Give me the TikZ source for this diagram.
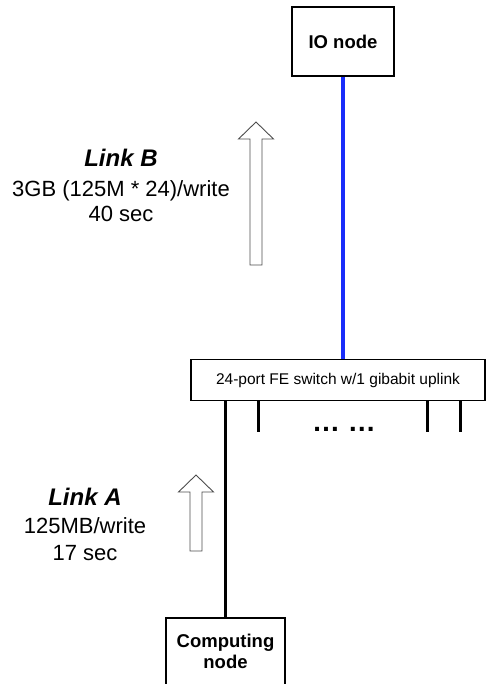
\documentclass[tikz,border=0pt]{standalone}
\usepackage{fontspec}
\setmainfont{Liberation Sans}
\usepackage{xcolor}
\usetikzlibrary{positioning}

\definecolor{linkblue}{RGB}{25,45,250}

\tikzset{
  box/.style={draw, line width=1.6pt, inner sep=0pt, align=center},
  uplink/.style={line width=4.5pt, color=linkblue},
  port/.style={line width=3pt},
  hollow/.style={draw=black!70, line width=0.9pt, line join=miter},
  linkname/.style={anchor=base, font=\fontsize{24}{28}\selectfont\bfseries\itshape},
  linkinfo/.style={anchor=base, font=\fontsize{22}{26}\selectfont},
}

\begin{document}
\begin{tikzpicture}[x=1pt, y=-1pt]
\useasboundingbox (0,0) rectangle (486,684);

% nodes
\node[box, minimum width=102pt, minimum height=69pt, font=\fontsize{18.5}{22}\selectfont\bfseries] (io) at (343,41.5) {IO node};
\node[box, line width=1.3pt, minimum width=294pt, minimum height=41pt, font=\fontsize{15.5}{18}\selectfont] (sw) at (338,380) {24-port FE switch w/1 gibabit uplink};
\node[box, minimum width=119pt, minimum height=67pt, font=\fontsize{18.5}{21}\selectfont\bfseries] (comp) at (225.5,651.5) {Computing\\node};

% links
\draw[uplink] (io.south) -- (io.south |- sw.north);
\draw[port] (comp.north) -- (comp.north |- sw.south);
\foreach \x in {258,427,460}
  \draw[port] (sw.south -| \x,0) -- ++(0,31);
\node[anchor=base, font=\fontsize{28}{30}\selectfont\bfseries] (more) at (344,431) {…\ …};

% direction arrows
\foreach \cx/\tip/\bot in {256/122/265, 196/475/551}
  \draw[hollow] (\cx-6,\bot) -- (\cx-6,\tip+17) -- (\cx-17.5,\tip+17) -- (\cx,\tip)
    -- (\cx+17.5,\tip+17) -- (\cx+6,\tip+17) -- (\cx+6,\bot) -- cycle;

% labels
\node[linkname] (linkB) at (121,167) {Link B};
\node[linkinfo] (linkBsize) at (121,197) {3GB (125M * 24)/write};
\node[linkinfo] (linkBtime) at (121,222) {40 sec};
\node[linkname] (linkA) at (85,505) {Link A};
\node[linkinfo] (linkAsize) at (85,533) {125MB/write};
\node[linkinfo] (linkAtime) at (85,560) {17 sec};
\end{tikzpicture}
\end{document}
